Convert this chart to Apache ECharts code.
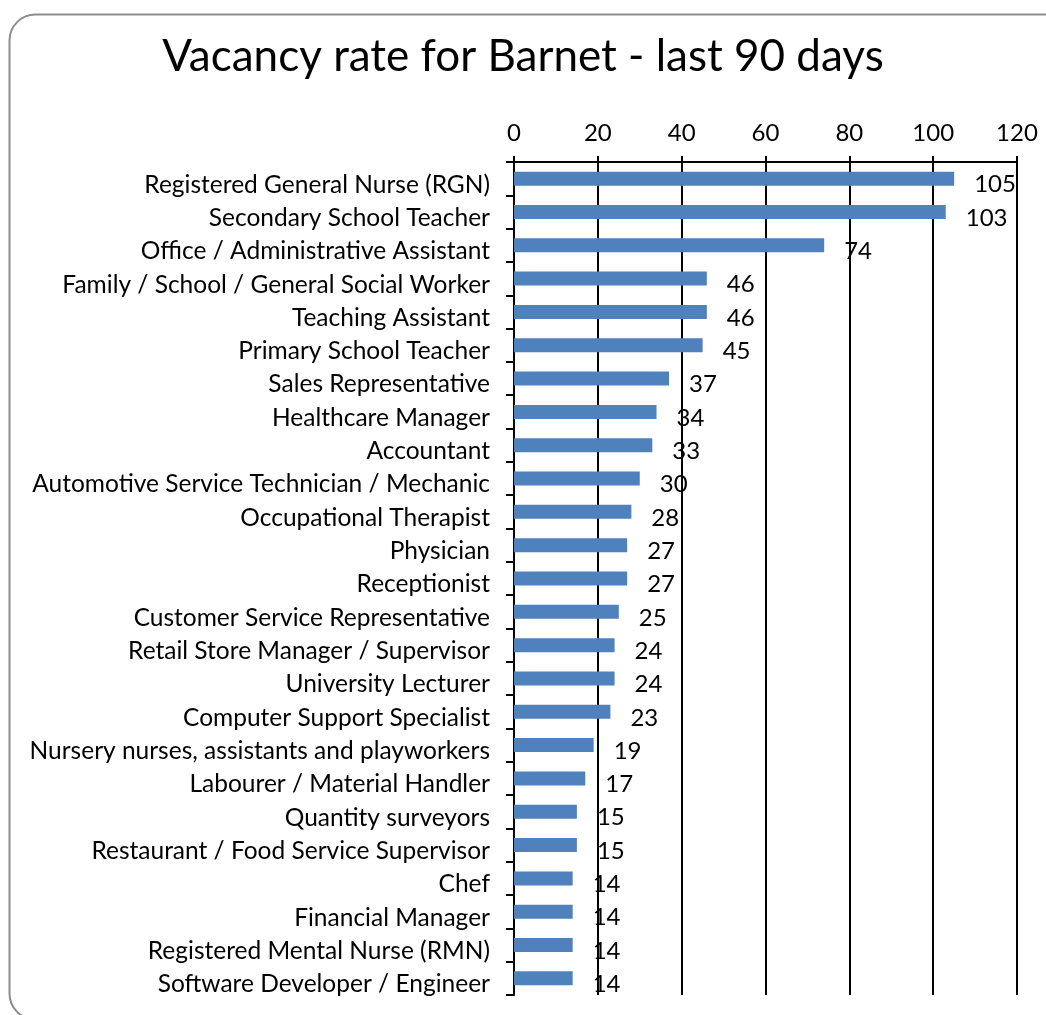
<!DOCTYPE html>
<html>
<head>
<meta charset="utf-8">
<script src="https://cdn.jsdelivr.net/npm/echarts@6/dist/echarts.min.js"></script>
<style>
html,body{margin:0;padding:0;background:#fff;}
#chart{width:1046px;height:1015px;}
</style>
</head>
<body>
<div id="chart"></div>
<script>
const titleText = 'Vacancy rate for Barnet - last 90 days';
const categories = [
  'Registered General Nurse (RGN)',
  'Secondary School Teacher',
  'Office / Administrative Assistant',
  'Family / School / General Social Worker',
  'Teaching Assistant',
  'Primary School Teacher',
  'Sales Representative',
  'Healthcare Manager',
  'Accountant',
  'Automotive Service Technician / Mechanic',
  'Occupational Therapist',
  'Physician',
  'Receptionist',
  'Customer Service Representative',
  'Retail Store Manager / Supervisor',
  'University Lecturer',
  'Computer Support Specialist',
  'Nursery nurses, assistants and playworkers',
  'Labourer / Material Handler',
  'Quantity surveyors',
  'Restaurant / Food Service Supervisor',
  'Chef',
  'Financial Manager',
  'Registered Mental Nurse (RMN)',
  'Software Developer / Engineer'
];
const values = [105, 103, 74, 46, 46, 45, 37, 34, 33, 30, 28, 27, 27, 25, 24, 24, 23, 19, 17, 15, 15, 14, 14, 14, 14];
const axisMin = 0, axisMax = 120, axisStep = 20;

const chart = echarts.init(document.getElementById('chart'));
const font = 'Lato, "Open Sans", sans-serif';
chart.setOption({
  animation: false,
  backgroundColor: '#fff',
  graphic: [{
    type: 'rect',
    shape: {x: 9.5, y: 14.5, width: 1060, height: 1005, r: 26},
    style: {fill: 'none', stroke: '#8c8c8c', lineWidth: 2},
    z: 0
  }],
  title: {
    text: titleText,
    left: 'center',
    top: 30,
    textStyle: {fontFamily: font, fontSize: 44, fontWeight: 'normal', color: '#000'}
  },
  grid: {left: 514, right: 29, top: 162, bottom: 20, containLabel: false},
  xAxis: {
    type: 'value',
    position: 'top',
    min: axisMin, max: axisMax, interval: axisStep,
    axisLine: {show: true, lineStyle: {color: '#000', width: 2}},
    axisTick: {show: true, length: 6, lineStyle: {color: '#000', width: 2}},
    axisLabel: {fontFamily: font, fontSize: 24, color: '#000', margin: 17},
    splitLine: {show: true, lineStyle: {color: '#000', width: 2}}
  },
  yAxis: {
    type: 'category',
    data: categories,
    inverse: true,
    axisLine: {show: true, lineStyle: {color: '#000', width: 2}},
    axisTick: {show: true, length: 8, lineStyle: {color: '#000', width: 2}},
    axisLabel: {
      margin: 24,
      formatter: function (v) { return '{c|' + v + '}'; },
      rich: {c: {fontFamily: font, fontSize: 24.5, color: '#000', padding: [12, 0, 0, 0]}}
    }
  },
  series: [{
    type: 'bar',
    data: values,
    barWidth: 14,
    itemStyle: {color: '#4F81BD'},
    label: {
      show: true,
      position: 'right',
      distance: 20,
      offset: [0, 6],
      fontFamily: font,
      fontSize: 24,
      color: '#000'
    }
  }]
});
</script>
</body>
</html>
